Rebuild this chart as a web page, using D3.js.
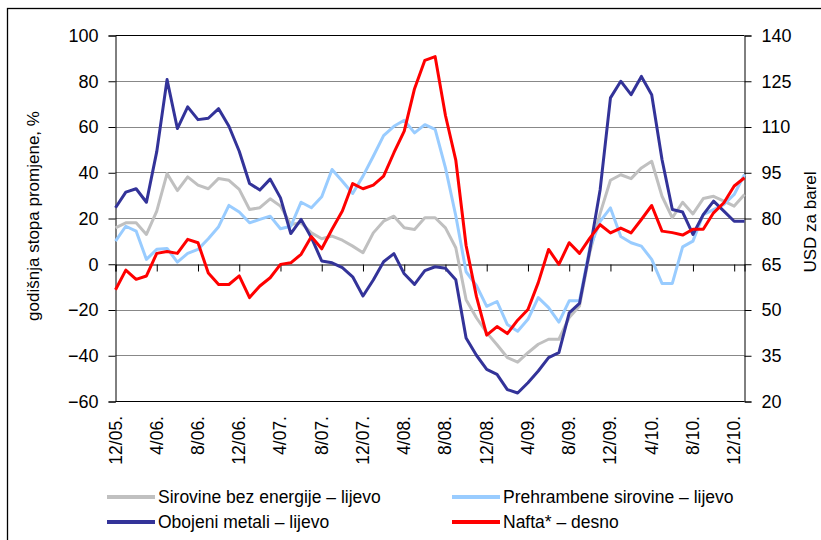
<!DOCTYPE html>
<html>
<head>
<meta charset="utf-8">
<script src="https://cdn.jsdelivr.net/npm/d3@7"></script>
<style>
  body { margin: 0; background: #fff; }
  svg { display: block; font-family: Arial, "Liberation Sans", sans-serif; }
</style>
</head>
<body>
<svg width="821" height="540"></svg>
<script>
// monthly, 12/05 .. 1/11
var months = [];
for (var k = 0; k < 62; k++) {
    var m = (11 + k) % 12 + 1, y = 5 + Math.floor((11 + k) / 12);
    months.push(m + '/' + (y < 10 ? '0' + y : y) + '.');
}

var sirovine = [15.7, 17.9, 17.9, 12.8, 23.0, 39.4, 32.0, 38.0, 34.4, 32.8, 37.3, 36.5, 32.5, 23.7, 24.5, 28.4,
    25.2, 17.2, 17.9, 13.5, 10.9, 12.1, 10.3, 7.7, 4.8, 13.5, 18.6, 20.8, 15.7, 15.0, 20.1, 20.1,
    15.7, 7.0, -15.7, -23.6, -30.1, -35.4, -41.0, -43.0, -38.9, -35.2, -33.0, -33.0, -23.5, -18.5,
    5.0, 22.0, 36.5, 38.9, 37.2, 41.9, 44.8, 29.5, 20.1, 26.9, 21.8, 28.5, 29.5, 27.4, 25.2, 30.3];

var prehrambene = [9.9, 16.4, 14.3, 1.9, 6.3, 6.7, 0.7, 4.5, 6.3, 10.9, 16.2, 25.5, 22.6, 17.9, 19.4, 20.8,
    15.3, 16.4, 26.9, 24.5, 29.3, 41.2, 36.1, 30.7, 38.3, 47.0, 56.0, 60.1, 62.7, 57.2, 60.8, 58.7,
    41.9, 21.0, -3.5, -9.5, -18.6, -16.5, -26.6, -29.5, -24.3, -14.8, -19.2, -25.5, -16.2, -16.2,
    7.0, 18.5, 24.4, 11.9, 9.2, 7.7, 1.9, -8.6, -8.6, 7.4, 9.9, 21.5, 23.7, 25.9, 30.3, 39.0];

var obojeni = [24.5, 31.3, 32.8, 26.9, 49.0, 80.5, 59.1, 68.6, 63.0, 63.6, 67.8, 60.1, 49.2, 35.1, 32.2, 37.0,
    28.8, 13.2, 19.4, 11.4, 1.2, 0.4, -1.7, -5.7, -14.1, -7.1, 0.9, 4.4, -4.4, -9.0, -3.0, -1.3,
    -2.0, -7.0, -32.5, -40.0, -46.2, -48.4, -55.0, -56.5, -52.0, -46.9, -41.0, -38.9, -21.5, -17.3,
    6.0, 32.4, 72.5, 79.8, 73.9, 81.9, 73.9, 45.6, 23.7, 22.6, 12.8, 21.5, 27.4, 23.0, 18.6, 18.6];

// USD per barrel, right axis
var nafta = [56.5, 62.9, 59.9, 61.0, 68.4, 69.0, 68.4, 73.0, 71.9, 62.0, 58.2, 58.2, 61.0, 53.9, 57.7, 60.4,
    64.8, 65.3, 68.1, 73.9, 69.9, 76.3, 82.3, 91.3, 89.6, 90.8, 93.7, 101.4, 108.5, 122.4, 131.7, 132.9,
    113.6, 99.0, 71.0, 54.3, 41.6, 44.4, 42.1, 46.5, 50.0, 58.8, 69.7, 64.8, 71.9, 68.4,
    73.4, 77.8, 75.1, 76.7, 75.1, 79.5, 84.1, 75.7, 75.2, 74.4, 76.3, 76.3, 81.7, 85.0, 90.5, 93.2];

var leftTicks = [-60, -40, -20, 0, 20, 40, 60, 80, 100];
var rightTicks = [20, 35, 50, 65, 80, 95, 110, 125, 140];

var series = [
    { name: 'Sirovine bez energije \u2013 lijevo', values: sirovine, color: '#c0c0c0', right: false },
    { name: 'Prehrambene sirovine \u2013 lijevo', values: prehrambene, color: '#99ccff', right: false },
    { name: 'Obojeni metali \u2013 lijevo', values: obojeni, color: '#333399', right: false },
    { name: 'Nafta* \u2013 desno', values: nafta, color: '#ff0000', right: true }
];

var svg = d3.select('svg');

// outer frame
svg.append('rect').attr('x', 7.5).attr('y', 8.5).attr('width', 900).attr('height', 600)
    .attr('fill', 'none').attr('stroke', '#000').attr('stroke-width', 1.3);

var x = d3.scalePoint().domain(d3.range(months.length)).range([115.5, 744.5]);
var yL = d3.scaleLinear().domain([-60, 100]).range([401, 35]);
var yR = d3.scaleLinear().domain([20, 140]).range([401, 35]);

// gridlines
svg.append('g').selectAll('line').data(leftTicks.filter(function(d) { return d != -60 && d != 100 && d != 0; }))
    .enter().append('line')
    .attr('x1', 115.5).attr('x2', 744.5)
    .attr('y1', function(d) { return Math.round(yL(d)) + 0.5; })
    .attr('y2', function(d) { return Math.round(yL(d)) + 0.5; })
    .attr('stroke', '#888').attr('stroke-width', 1);

// plot border
svg.append('line').attr('x1', 115.5).attr('x2', 744.5).attr('y1', 35.5).attr('y2', 35.5).attr('stroke', '#000');
svg.append('line').attr('x1', 115.5).attr('x2', 744.5).attr('y1', 401.5).attr('y2', 401.5).attr('stroke', '#000');

// left axis
var gL = svg.append('g').attr('transform', 'translate(115.5,0.5)')
    .call(d3.axisLeft(yL).tickValues(leftTicks).tickSize(7).tickPadding(10));
// right axis
var gR = svg.append('g').attr('transform', 'translate(744.5,0.5)')
    .call(d3.axisRight(yR).tickValues(rightTicks).tickSize(7).tickPadding(10));
[gL, gR].forEach(function(g) {
    g.select('.domain').attr('stroke', '#000');
    g.selectAll('.tick line').attr('stroke', '#000');
    g.selectAll('text').attr('font-size', 18).attr('fill', '#000').attr('font-family', 'Arial, "Liberation Sans", sans-serif');
});

// category axis at zero
var tickIdx = d3.range(0, 61, 4);
var gX = svg.append('g').attr('transform', 'translate(0,' + (Math.round(yL(0)) + 0.5) + ')')
    .call(d3.axisBottom(x).tickValues(tickIdx).tickSize(7).tickFormat(''));
gX.select('.domain').attr('stroke', '#000');
gX.selectAll('.tick line').attr('stroke', '#000');

// category labels
svg.append('g').selectAll('text').data(tickIdx).enter().append('text')
    .attr('transform', function(d) { return 'translate(' + (x(d) + 6) + ',416) rotate(-90)'; })
    .attr('text-anchor', 'end')
    .attr('font-size', 17.5)
    .text(function(d) { return months[d]; });

// lines
series.forEach(function(s) {
    var ys = s.right ? yR : yL;
    var line = d3.line().x(function(d, i) { return x(i); }).y(function(d) { return ys(d); });
    svg.append('path').datum(s.values).attr('d', line)
        .attr('fill', 'none').attr('stroke', s.color).attr('stroke-width', 3)
        .attr('stroke-linejoin', 'round');
});

// axis titles
svg.append('text').attr('transform', 'translate(39,216) rotate(-90)')
    .attr('text-anchor', 'middle').attr('font-size', 17).text('godišnja stopa promjene, %');
svg.append('text').attr('transform', 'translate(816,222) rotate(-90)')
    .attr('text-anchor', 'middle').attr('font-size', 17).text('USD za barel');

// legend
var legPos = [[107, 497], [452, 497], [107, 522], [452, 522]];
var leg = svg.append('g').selectAll('g').data(series).enter().append('g')
    .attr('transform', function(d, i) { return 'translate(' + legPos[i][0] + ',' + legPos[i][1] + ')'; });
leg.append('line').attr('x1', 0).attr('x2', 48).attr('stroke', function(d) { return d.color; }).attr('stroke-width', 4);
leg.append('text').attr('x', 51).attr('y', 6).attr('font-size', 17.5).text(function(d) { return d.name; });
</script>
</body>
</html>
